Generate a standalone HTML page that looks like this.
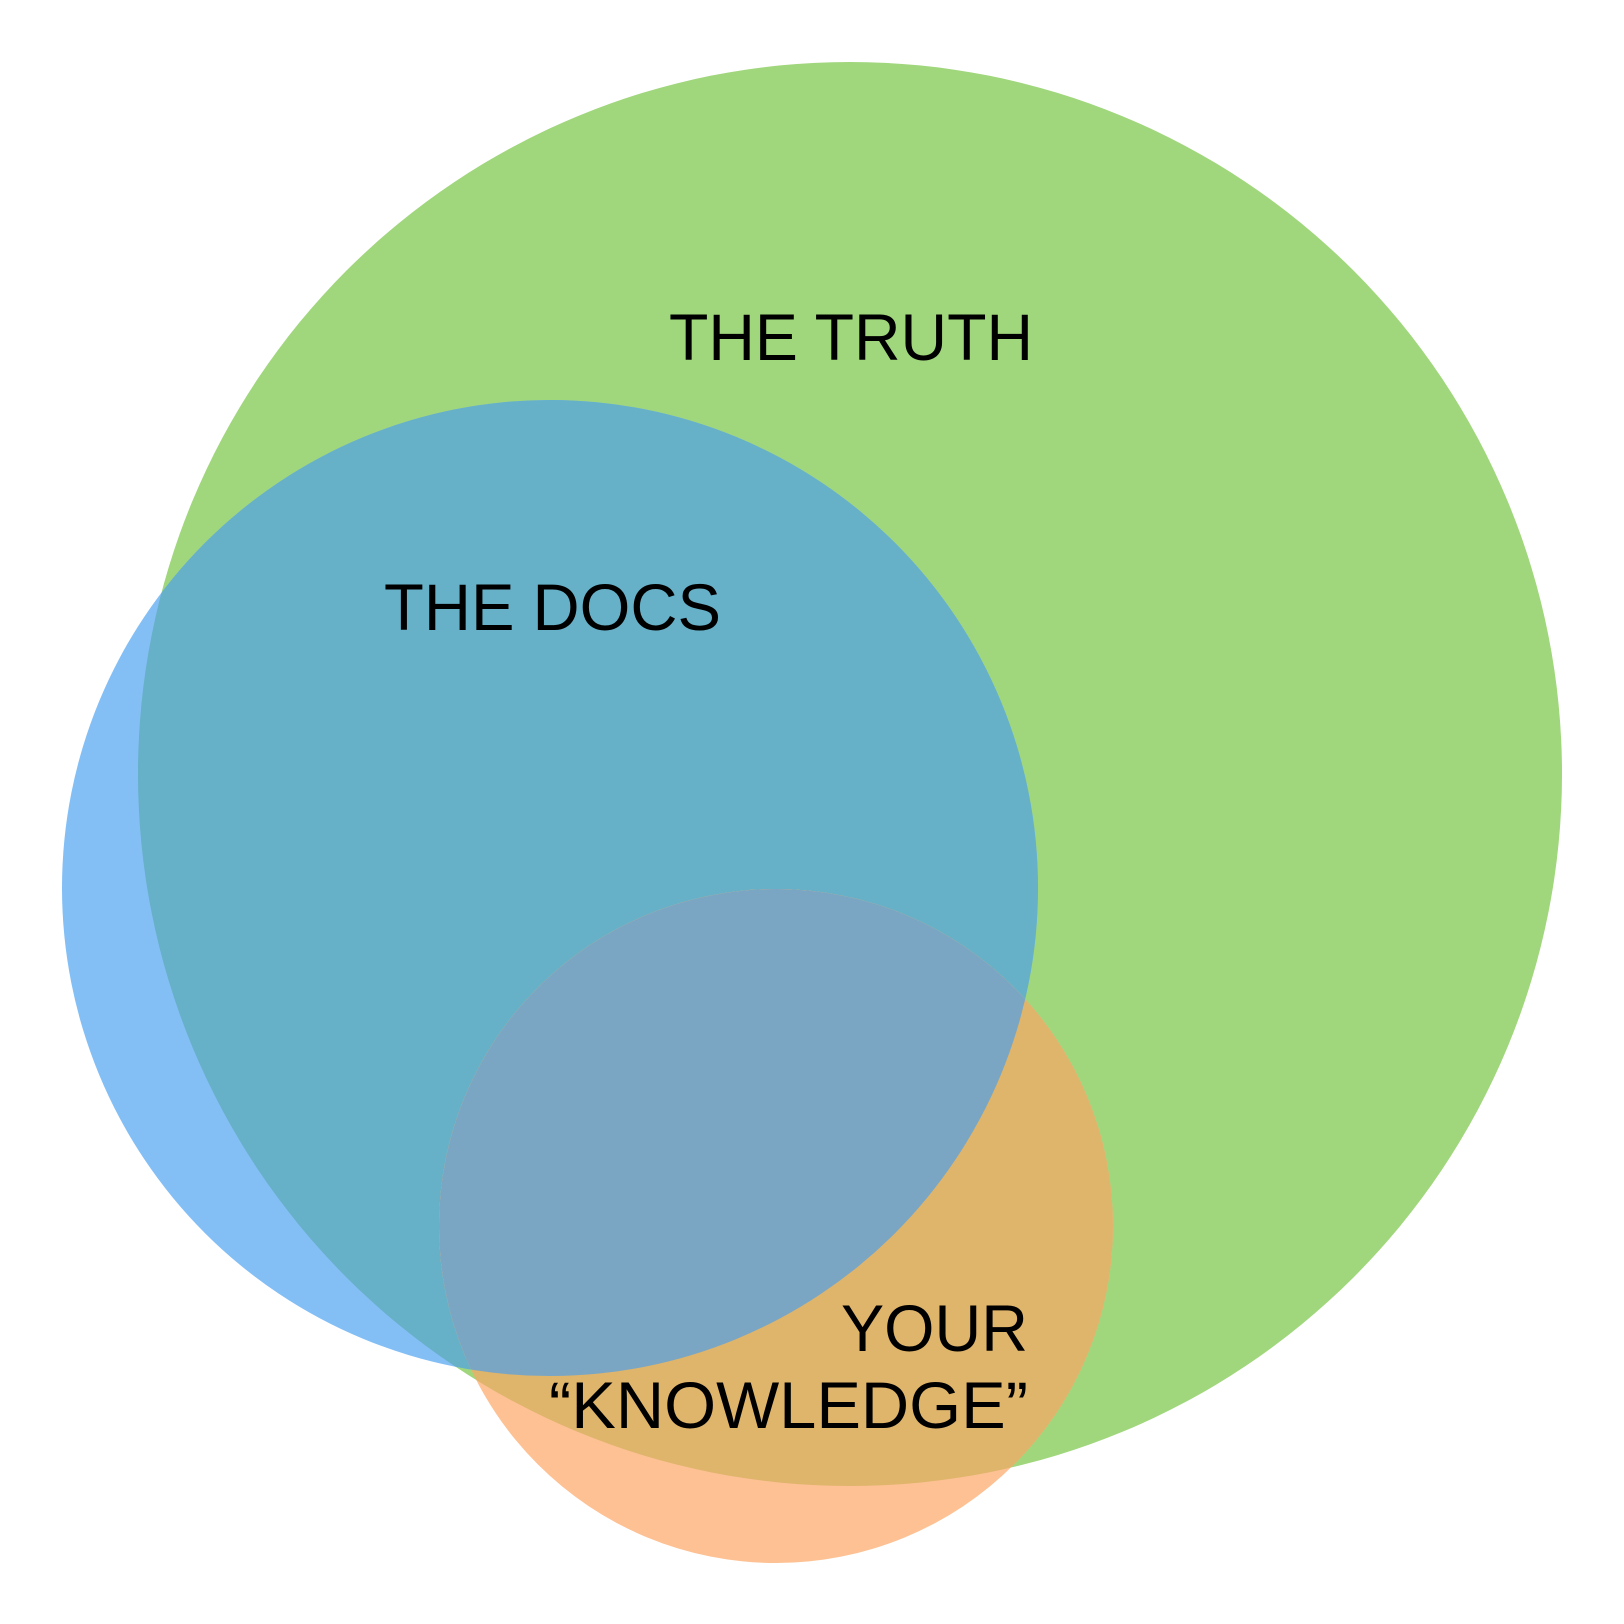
<!DOCTYPE html>
<html><head><style>html,body{margin:0;padding:0;background:#fff}svg{display:block}</style></head>
<body>
<svg width="1624" height="1624" viewBox="0 0 1624 1624" xmlns="http://www.w3.org/2000/svg">
<defs>
<clipPath id="g"><circle cx="850" cy="774" r="712"/></clipPath>
<clipPath id="b"><circle cx="550" cy="888" r="488"/></clipPath>
</defs>
<circle cx="850" cy="774" r="712" fill="#a0d67c"/>
<circle cx="550" cy="888" r="488" fill="#83bff5"/>
<circle cx="550" cy="888" r="488" fill="#66b0c8" clip-path="url(#g)"/>
<circle cx="776" cy="1226" r="337" fill="#fdc193"/>
<circle cx="776" cy="1226" r="337" fill="#dfb46b" clip-path="url(#g)"/>
<circle cx="776" cy="1226" r="337" fill="#7aa6c3" clip-path="url(#b)"/>
<g font-family="Liberation Sans, Arial, sans-serif" font-size="66" fill="#000">
<text x="669" y="360" textLength="364" lengthAdjust="spacingAndGlyphs">THE TRUTH</text>
<text x="384" y="630" textLength="337" lengthAdjust="spacingAndGlyphs">THE DOCS</text>
<text x="841" y="1351" textLength="187" lengthAdjust="spacingAndGlyphs">YOUR</text>
<text x="549" y="1428" textLength="479" lengthAdjust="spacingAndGlyphs">“KNOWLEDGE”</text>
</g>
</svg>
</body></html>
